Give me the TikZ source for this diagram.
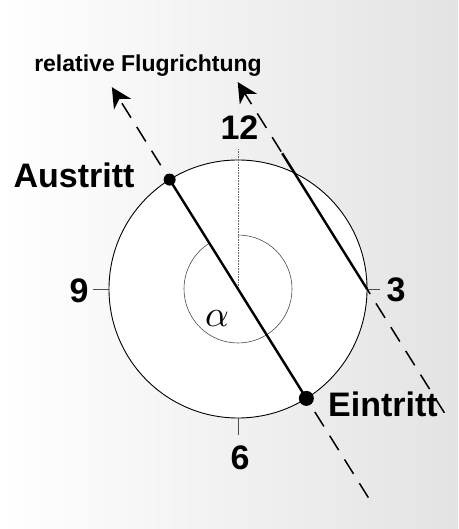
\documentclass[tikz,border=0pt]{standalone}
\usepackage{fontspec}
\setmainfont{Liberation Sans}
\usetikzlibrary{arrows.meta,calc}
\begin{document}
\begin{tikzpicture}[x=1pt,y=1pt,
  lbl/.style={font=\fontsize{34}{34}\selectfont\bfseries, inner sep=0pt, anchor=base},
  bigcircle/.style={draw=black, line width=0.9pt, fill=white},
  innerarc/.style={draw=black!70, line width=0.6pt},
  tickline/.style={draw=black!70, line width=0.6pt},
  refline/.style={draw=black!60, line width=0.6pt, densely dotted},
  flightdash/.style={draw=black, line width=1.5pt, dash pattern=on 17pt off 11pt,
    -{Stealth[length=20pt, width=20pt, inset=6pt]}},
  chord/.style={draw=black, line width=2.4pt},
  pt/.style={circle, fill=black, inner sep=0pt}
]
\useasboundingbox (0,0) rectangle (458,529);
\shade[left color=white, right color=black!11] (0,0) rectangle (458,529);

\coordinate (C) at (238,240);
\def\R{129}
\def\r{54}
% big circle
\draw[bigcircle] (C) circle (\R);
% directions and points
\coordinate (Aus) at ($(C)+(122:\R)$);
\coordinate (Ein) at ($(C)+(302:\R)$);
\coordinate (Tip1) at ($(C)+(122:238)$);
\coordinate (End1) at ($(C)+(302:246)$);
\coordinate (P3) at ($(C)+(0:\R)$);
\coordinate (S2) at ($(P3)+(122:160)$);
\coordinate (Tip2) at ($(P3)+(122:244)$);
\coordinate (End2) at ($(P3)+(302:146)$);
% ticks
\coordinate (T12) at ($(C)+(90:140)$);
\coordinate (T9a) at ($(C)+(180:\R)$);
\coordinate (T9b) at ($(C)+(180:145)$);
\coordinate (T3b) at ($(C)+(0:142)$);
\coordinate (T6a) at ($(C)+(270:\R)$);
\coordinate (T6b) at ($(C)+(270:146)$);
\draw[refline] (C) -- (T12);
\draw[tickline] (T9a) -- (T9b);
\draw[tickline] (P3) -- (T3b);
\draw[tickline] (T6a) -- (T6b);
% inner arc (angle alpha)
\draw[innerarc] ($(C)+(90:\r)$) arc[start angle=90, end angle=-238, radius=\r];
% flight direction lines
\draw[flightdash] (End1) -- (Tip1);
\draw[flightdash] (End2) -- (Tip2);
% chords
\draw[chord] (Aus) -- (Ein);
\draw[chord] (P3) -- (S2);
\node[pt, minimum size=12pt] (ndAus) at (Aus) {};
\node[pt, minimum size=15pt] (ndEin) at (Ein) {};
% labels
\node[lbl] (lAus) at (74,341) {Austritt};
\node[lbl] (lEin) at (383,112) {Eintritt};
\node[lbl] (l12) at (239.5,389) {12};
\node[lbl] (l9) at (79,226) {9};
\node[lbl] (l3) at (396,227) {3};
\node[lbl] (l6) at (240,59) {6};
\node[inner sep=0pt, scale=3.7] (lal) at (217,210) {$\alpha$};
\node[inner sep=0pt, anchor=base, font=\fontsize{23}{23}\selectfont\bfseries] (lrel) at (148,457) {relative Flugrichtung};
\end{tikzpicture}
\end{document}
